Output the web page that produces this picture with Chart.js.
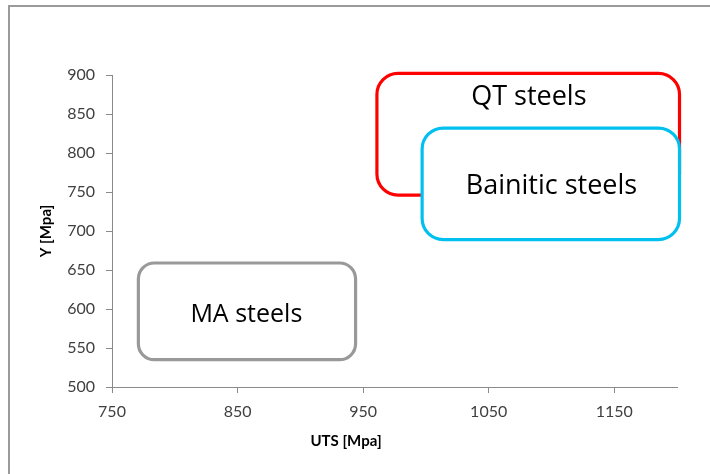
<!DOCTYPE html>
<html>
<head>
<meta charset="utf-8">
<script src="https://cdn.jsdelivr.net/npm/chart.js@4"></script>
<style>
  html, body { margin: 0; padding: 0; background: #fff; }
  #wrap { width: 710px; height: 474px; }
</style>
</head>
<body>
<div id="wrap"><canvas id="c" width="710" height="474"></canvas></div>
<script>
// Steel families as UTS / yield-strength windows (MPa)
const families   = ['QT steels', 'Bainitic steels', 'MA steels'];
const utsMin     = [961, 997, 771];
const utsMax     = [1202, 1202, 944];
const yMin       = [746, 689, 535];
const yMax       = [902, 832, 659];
const labelUts   = [1082, 1100, 857];
const labelY     = [871, 757, 593];

const xTicks = [750, 850, 950, 1050, 1150];
const yTicks = [500, 550, 600, 650, 700, 750, 800, 850, 900];

// drawing styles
const boxColors   = ['#FF0000', '#00C0F0', '#999999'];
const boxRadius   = [21, 21, 16];
const boxFontSize = [27, 27, 25];
const FONT = 'Lato, "Open Sans", sans-serif';
const BOX_FONT = '"Open Sans", Lato, sans-serif';

function roundRect(ctx, x0, y0, x1, y1, r) {
  ctx.beginPath();
  ctx.moveTo(x0 + r, y0);
  ctx.lineTo(x1 - r, y0);
  ctx.arcTo(x1, y0, x1, y0 + r, r);
  ctx.lineTo(x1, y1 - r);
  ctx.arcTo(x1, y1, x1 - r, y1, r);
  ctx.lineTo(x0 + r, y1);
  ctx.arcTo(x0, y1, x0, y1 - r, r);
  ctx.lineTo(x0, y0 + r);
  ctx.arcTo(x0, y0, x0 + r, y0, r);
  ctx.closePath();
}

// Frame, axis titles and the family boxes
const familyBoxes = {
  id: 'familyBoxes',
  beforeDraw(chart) {
    const ctx = chart.ctx;
    ctx.save();
    ctx.fillStyle = '#fff';
    ctx.fillRect(0, 0, chart.width, chart.height);
    ctx.strokeStyle = '#9a9a9a';
    ctx.lineWidth = 2;
    ctx.beginPath();
    ctx.moveTo(9, chart.height);
    ctx.lineTo(9, 6);
    ctx.lineTo(chart.width, 6);
    ctx.stroke();
    ctx.restore();
  },
  afterDatasetsDraw(chart) {
    const ctx = chart.ctx;
    const xs = chart.scales.x, ys = chart.scales.y;
    ctx.save();
    families.forEach((name, i) => {
      const x0 = xs.getPixelForValue(utsMin[i]);
      const x1 = xs.getPixelForValue(utsMax[i]);
      const y0 = ys.getPixelForValue(yMax[i]);
      const y1 = ys.getPixelForValue(yMin[i]);
      roundRect(ctx, x0, y0, x1, y1, boxRadius[i]);
      ctx.fillStyle = '#fff';
      ctx.fill();
      ctx.lineWidth = 3.2;
      ctx.strokeStyle = boxColors[i];
      ctx.stroke();
      ctx.fillStyle = '#000';
      ctx.font = boxFontSize[i] + 'px ' + BOX_FONT;
      ctx.textAlign = 'center';
      ctx.textBaseline = 'middle';
      ctx.fillText(name, xs.getPixelForValue(labelUts[i]), ys.getPixelForValue(labelY[i]));
    });
    // axis titles
    ctx.fillStyle = '#000';
    ctx.font = 'bold 15px ' + FONT;
    ctx.textAlign = 'center';
    ctx.textBaseline = 'middle';
    ctx.fillText('UTS [Mpa]', 346, 441);
    ctx.translate(46, (chart.chartArea.top + chart.chartArea.bottom) / 2);
    ctx.rotate(-Math.PI / 2);
    ctx.fillText('Y [Mpa]', 0, 0);
    ctx.restore();
  }
};

const datasets = families.map((name, i) => ({
  label: name,
  data: [
    { x: utsMin[i], y: yMin[i] },
    { x: utsMax[i], y: yMax[i] }
  ],
  pointRadius: 0,
  showLine: false
}));

new Chart(document.getElementById('c'), {
  type: 'scatter',
  data: { datasets },
  options: {
    responsive: false,
    animation: false,
    devicePixelRatio: 1,
    layout: { padding: { left: 0, top: 75, right: 33, bottom: 0 } },
    plugins: { legend: { display: false }, tooltip: { enabled: false } },
    scales: {
      x: {
        type: 'linear',
        min: 750, max: 1200,
        afterBuildTicks: s => { s.ticks = xTicks.map(v => ({ value: v })); },
        afterFit: s => { s.height = 474 - 387; },
        border: { color: '#8a8a8a', width: 1 },
        grid: { drawOnChartArea: false, drawTicks: true, tickLength: 6, color: '#8a8a8a' },
        ticks: { color: '#404040', padding: 9, font: { family: FONT, size: 16 }, maxRotation: 0,
                 callback: v => String(v) }
      },
      y: {
        type: 'linear',
        min: 500, max: 900,
        afterBuildTicks: s => { s.ticks = yTicks.map(v => ({ value: v })); },
        afterFit: s => { s.width = 112; },
        border: { color: '#8a8a8a', width: 1 },
        grid: { drawOnChartArea: false, drawTicks: true, tickLength: 6, color: '#8a8a8a' },
        ticks: { color: '#404040', padding: 11, font: { family: FONT, size: 16 },
                 callback: v => String(v) }
      }
    }
  },
  plugins: [familyBoxes]
});
</script>
</body>
</html>
